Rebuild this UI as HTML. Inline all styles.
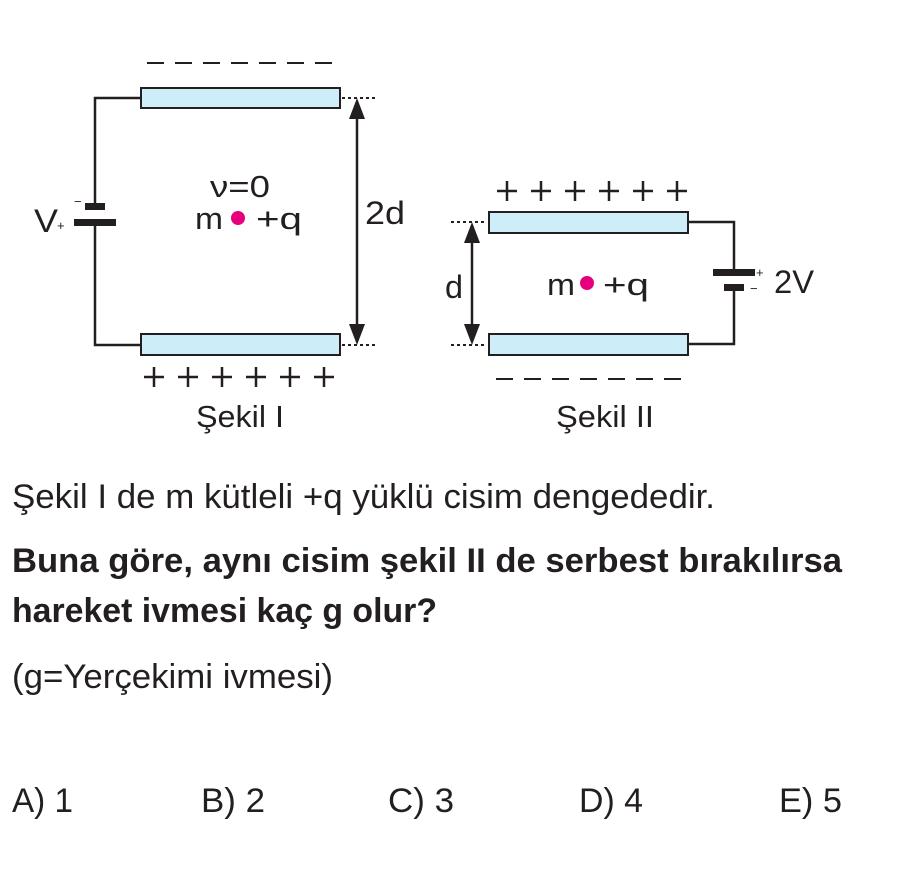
<!DOCTYPE html>
<html><head><meta charset="utf-8"><style>html,body{margin:0;padding:0;background:#fff}</style></head>
<body>
<svg width="909" height="886" viewBox="0 0 909 886" xmlns="http://www.w3.org/2000/svg" font-family="Liberation Sans, Arial, sans-serif" fill="#231f20">
<!-- Figure I -->
<g stroke="#231f20" stroke-width="2.5" fill="none">
<polyline points="140,98 95,98 95,206"/>
<polyline points="95,222 95,345 140,345"/>
</g>
<rect x="85" y="203" width="20" height="7" fill="#231f20"/>
<rect x="74" y="219" width="42" height="7" fill="#231f20"/>
<text x="74" y="206" font-size="13">−</text>
<text x="57" y="230" font-size="13">+</text>
<text x="34" y="232" font-size="32" textLength="24" lengthAdjust="spacingAndGlyphs">V</text>
<rect x="141" y="88" width="199" height="20" fill="#cdeef8" stroke="#231f20" stroke-width="2"/>
<rect x="141" y="334" width="199" height="21" fill="#cdeef8" stroke="#231f20" stroke-width="2"/>
<line x1="342" y1="98" x2="378" y2="98" stroke="#231f20" stroke-width="2" stroke-dasharray="3,3"/>
<line x1="342" y1="345" x2="378" y2="345" stroke="#231f20" stroke-width="2" stroke-dasharray="3,3"/>
<line x1="357" y1="110" x2="357" y2="333" stroke="#231f20" stroke-width="2.5"/>
<polygon points="357,98 349,119 365,119" fill="#231f20"/>
<polygon points="357,345 349,324 365,324" fill="#231f20"/>
<text x="365" y="224" font-size="32" textLength="40" lengthAdjust="spacingAndGlyphs">2d</text>
<line x1="147" y1="63" x2="338" y2="63" stroke="#231f20" stroke-width="2" stroke-dasharray="17,11"/>
<g stroke="#231f20" stroke-width="2.5">
<path d="M144,377h20M154,367v20 M178,377h20M188,367v20 M212,377h20M222,367v20 M246,377h20M256,367v20 M280,377h20M290,367v20 M314,377h20M324,367v20"/>
<path d="M497,191h20M507,181v20 M531,191h20M541,181v20 M565,191h20M575,181v20 M599,191h20M609,181v20 M633,191h20M643,181v20 M667,191h20M677,181v20"/>
</g>
<text x="240" y="427" font-size="31" text-anchor="middle" textLength="88" lengthAdjust="spacingAndGlyphs">Şekil I</text>
<text x="240" y="197" font-size="31" text-anchor="middle" textLength="60" lengthAdjust="spacingAndGlyphs">ν=0</text>
<text x="195" y="229" font-size="31" textLength="28" lengthAdjust="spacingAndGlyphs">m</text>
<circle cx="238" cy="218" r="7" fill="#e6007e"/>
<text x="256" y="229" font-size="31" textLength="46" lengthAdjust="spacingAndGlyphs">+q</text>
<!-- Figure II -->
<g stroke="#231f20" stroke-width="2.5" fill="none">
<polyline points="688,222 734,222 734,270"/>
<polyline points="734,288 734,344 688,344"/>
</g>
<rect x="713" y="269" width="42" height="7" fill="#231f20"/>
<rect x="724" y="284" width="20" height="7" fill="#231f20"/>
<text x="756" y="277" font-size="13">+</text>
<text x="750" y="293" font-size="13">−</text>
<text x="774" y="293" font-size="32" textLength="40" lengthAdjust="spacingAndGlyphs">2V</text>
<rect x="489" y="212" width="199" height="21" fill="#cdeef8" stroke="#231f20" stroke-width="2"/>
<rect x="489" y="334" width="199" height="21" fill="#cdeef8" stroke="#231f20" stroke-width="2"/>
<line x1="451" y1="222" x2="487" y2="222" stroke="#231f20" stroke-width="2" stroke-dasharray="3,3"/>
<line x1="451" y1="345" x2="487" y2="345" stroke="#231f20" stroke-width="2" stroke-dasharray="3,3"/>
<line x1="472" y1="234" x2="472" y2="333" stroke="#231f20" stroke-width="2.5"/>
<polygon points="472,222 464,243 480,243" fill="#231f20"/>
<polygon points="472,345 464,324 480,324" fill="#231f20"/>
<text x="445" y="298" font-size="32" textLength="18" lengthAdjust="spacingAndGlyphs">d</text>
<text x="547" y="295" font-size="31" textLength="28" lengthAdjust="spacingAndGlyphs">m</text>
<circle cx="587" cy="283" r="7" fill="#e6007e"/>
<text x="603" y="295" font-size="31" textLength="46" lengthAdjust="spacingAndGlyphs">+q</text>
<line x1="496" y1="379" x2="686" y2="379" stroke="#231f20" stroke-width="2" stroke-dasharray="17,11"/>
<text x="605" y="427" font-size="31" text-anchor="middle" textLength="98" lengthAdjust="spacingAndGlyphs">Şekil II</text>
<!-- Text -->
<text x="12" y="508" font-size="34" textLength="703" lengthAdjust="spacingAndGlyphs">Şekil I de m kütleli +q yüklü cisim dengededir.</text>
<text x="12" y="572" font-size="34" font-weight="bold" textLength="830" lengthAdjust="spacingAndGlyphs">Buna göre, aynı cisim şekil II de serbest bırakılırsa</text>
<text x="12" y="622" font-size="34" font-weight="bold" textLength="425" lengthAdjust="spacingAndGlyphs">hareket ivmesi kaç g olur?</text>
<text x="12" y="688" font-size="34" textLength="321" lengthAdjust="spacingAndGlyphs">(g=Yerçekimi ivmesi)</text>
<text x="12" y="812" font-size="34" textLength="61" lengthAdjust="spacingAndGlyphs">A) 1</text>
<text x="201" y="812" font-size="34" textLength="64" lengthAdjust="spacingAndGlyphs">B) 2</text>
<text x="388" y="812" font-size="34" textLength="66" lengthAdjust="spacingAndGlyphs">C) 3</text>
<text x="579" y="812" font-size="34" textLength="64" lengthAdjust="spacingAndGlyphs">D) 4</text>
<text x="779" y="812" font-size="34" textLength="63" lengthAdjust="spacingAndGlyphs">E) 5</text>
</svg>
</body></html>
